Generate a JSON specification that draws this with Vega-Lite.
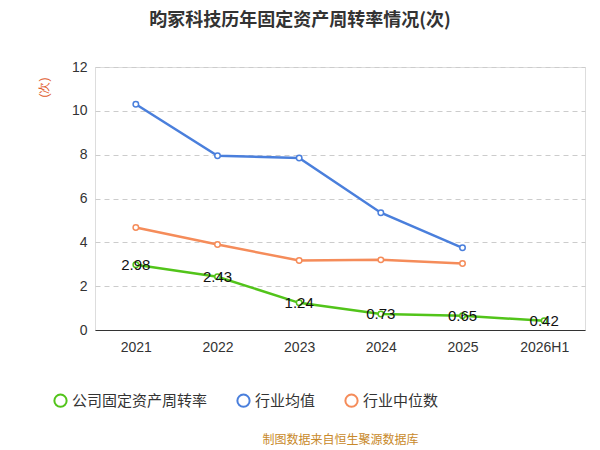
{
"$schema":"https://vega.github.io/schema/vega-lite/v6.json",
"width":490,"height":263,
"autosize":{"type":"none"},
"padding":{"left":95,"top":67,"right":15,"bottom":120},
"background":"white",
"title":{"text":"昀冢科技历年固定资产周转率情况(次)","fontSize":18,"fontWeight":"bold","font":"Noto Sans CJK SC","color":"#333","offset":30,"anchor":"middle","dx":-40},
"data":{"values":[
{"year":"2021","s":"公司固定资产周转率","v":2.98},
{"year":"2022","s":"公司固定资产周转率","v":2.43},
{"year":"2023","s":"公司固定资产周转率","v":1.24},
{"year":"2024","s":"公司固定资产周转率","v":0.73},
{"year":"2025","s":"公司固定资产周转率","v":0.65},
{"year":"2026H1","s":"公司固定资产周转率","v":0.42},
{"year":"2021","s":"行业均值","v":10.3},
{"year":"2022","s":"行业均值","v":7.95},
{"year":"2023","s":"行业均值","v":7.85},
{"year":"2024","s":"行业均值","v":5.35},
{"year":"2025","s":"行业均值","v":3.75},
{"year":"2021","s":"行业中位数","v":4.68},
{"year":"2022","s":"行业中位数","v":3.9},
{"year":"2023","s":"行业中位数","v":3.17},
{"year":"2024","s":"行业中位数","v":3.2},
{"year":"2025","s":"行业中位数","v":3.03}
]},
"encoding":{
"x":{"field":"year","type":"ordinal","scale":{"type":"point","padding":0.5},
"axis":{"title":"制图数据来自恒生聚源数据库","titleColor":"#c8892a","titleFontSize":12,"titleFontWeight":"normal","titlePadding":80,"titleFont":"Noto Sans CJK SC","labelFontSize":14,"labelColor":"#333","labelAngle":0,"ticks":false,"domainColor":"#333","labelPadding":10}},
"y":{"field":"v","type":"quantitative","scale":{"domain":[0,12]},
"axis":{"title":"(次)","titleColor":"#e05a2a","titleFontWeight":"normal","titleFontSize":12,"titleAngle":-90,"titleX":-45,"titleY":20,"tickCount":6,"labelFontSize":14,"labelColor":"#333","gridDash":[5,4],"gridColor":"#ccc","domain":false,"ticks":false,"labelPadding":8}},
"color":{"field":"s","type":"nominal","sort":["公司固定资产周转率","行业均值","行业中位数"],
"scale":{"domain":["公司固定资产周转率","行业均值","行业中位数"],"range":["#52c41a","#4a7fdc","#f58c5a"]},
"legend":{"orient":"none","legendX":-42,"legendY":326,"direction":"horizontal","title":null,"labelFontSize":15,"labelColor":"#333","labelFont":"Noto Sans CJK SC","symbolType":"circle","symbolFillColor":"white","symbolStrokeWidth":2,"symbolSize":150,"columnPadding":25}}
},
"layer":[
{"mark":{"type":"line","strokeWidth":2.5,"point":{"filled":false,"fill":"white","size":30,"strokeWidth":1.5}}},
{"transform":[{"filter":"datum.s==='公司固定资产周转率'"}],
"mark":{"type":"text","fontSize":15,"color":"#111"},
"encoding":{"text":{"field":"v","type":"quantitative","format":".2f"},"color":{"value":"#111"}}}
]
}
